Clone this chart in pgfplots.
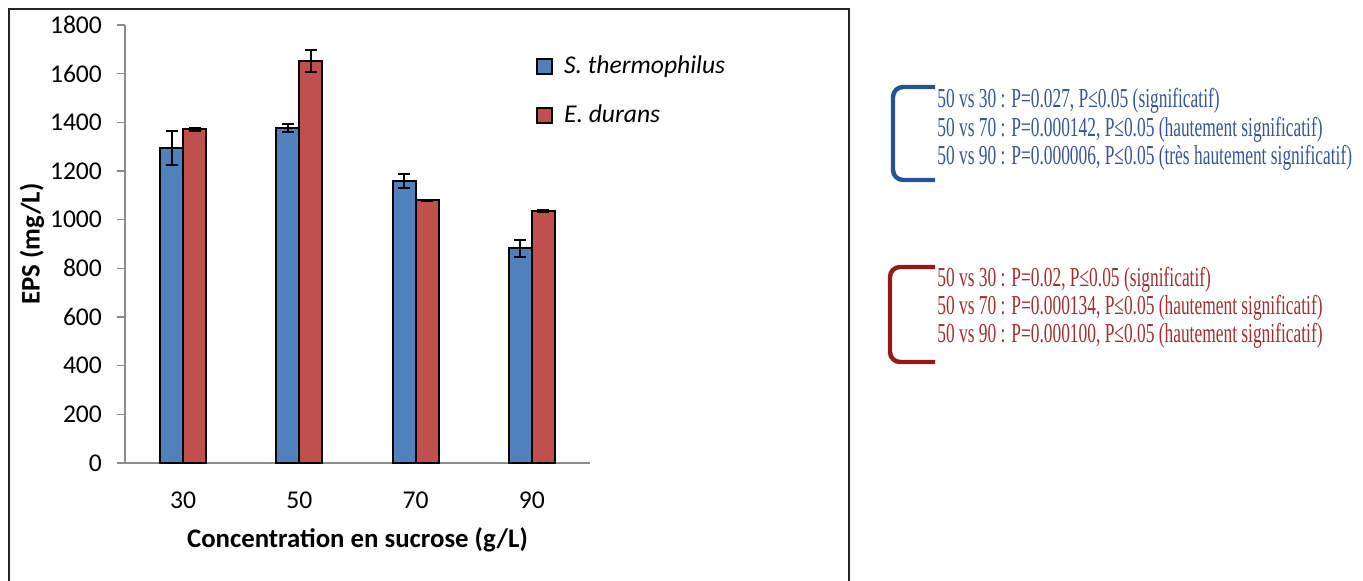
\documentclass[border=0pt]{standalone}
\usepackage{fontspec}
\setmainfont{Carlito}
\newfontfamily\annotfont[FakeStretch=0.635]{Liberation Serif}
\usepackage{pgfplots}
\usepackage{pgfplotstable}
\pgfplotsset{compat=1.18}

\definecolor{barblue}{RGB}{79,129,189}
\definecolor{barred}{RGB}{192,80,77}
\definecolor{noteblue}{RGB}{52,86,150}
\definecolor{notered}{RGB}{165,45,45}
\definecolor{brkblue}{RGB}{36,84,150}
\definecolor{brkred}{RGB}{150,25,25}

% EPS (mg/L) by sucrose concentration: mean and error
\pgfplotstableread{
x val err
0 1293 70
1 1377 16
2 1159 30
3 882 34
}\sthermo
\pgfplotstableread{
x val err
0 1371 5
1 1652 47
2 1080 2
3 1036 3
}\edurans

\begin{document}
\begin{tikzpicture}[x=1pt,y=1pt]
\useasboundingbox (0,0) rectangle (681.5,290.5);
% chart frame
\draw[line width=1pt, black!85] (4.5,-3) -- (4.5,286) -- (424.5,286) -- (424.5,-3);

\begin{axis}[
  at={(62.5pt,59pt)}, anchor=south west, scale only axis,
  width=232.5pt, height=219pt,
  xmin=-0.5, xmax=3.5, ymin=0, ymax=1800,
  axis x line=bottom, axis y line=left,
  axis line style={-, draw=gray!90, line width=0.8pt},
  x axis line style={shorten <=-4pt},
  xtick={0,1,2,3}, xticklabels={30,50,70,90},
  major x tick style={draw=none},
  ytick={0,200,...,1800},
  tick align=outside, major tick length=4pt,
  y tick style={draw=gray!90, line width=0.8pt},
  /pgf/number format/1000 sep={},
  /pgf/number format/assume math mode=true,
  tick label style={font=\fontsize{12.8}{15}\selectfont},
  xticklabel style={yshift=-7pt},
  yticklabel style={xshift=-4pt},
  ybar=0pt, bar width=11.5pt,
  every axis plot/.append style={draw=black, line width=1.1pt},
  error bars/error bar style={black, line width=1pt},
  error bars/error mark options={rotate=90, mark size=3pt, black, line width=1pt},
  legend image code/.code={\draw[#1, line width=0.8pt] (0pt,-3.75pt) rectangle (7.5pt,3.75pt);},
  legend style={at={(0.884,0.939)}, anchor=north west, draw=none, fill=none,
    font=\fontsize{12.8}{15}\selectfont\itshape, row sep=10pt, inner sep=0pt,
    /tikz/every odd column/.append style={column sep=3.5pt}},
  legend cell align=left,
  clip=false,
]
\addplot[fill=barblue, error bars/.cd, y dir=both, y explicit]
  table[x=x, y=val, y error=err] {\sthermo};
\addplot[fill=barred, error bars/.cd, y dir=both, y explicit]
  table[x=x, y=val, y error=err] {\edurans};
\legend{S. thermophilus, E. durans}
\end{axis}

% axis titles
\node[font=\fontsize{13.4}{15}\selectfont\bfseries] at (178.75,20.5) {Concentration en sucrose (g/L)};
\node[font=\fontsize{13.4}{15}\selectfont\bfseries, rotate=90] at (16,168.5) {EPS (mg/L)};

% statistical comparisons
\draw[brkblue, line width=2.2pt, rounded corners=5pt] (467.5,247) -- (446.5,247) -- (446.5,200.5) -- (467.5,200.5);
\begin{scope}[every node/.style={anchor=base west, inner sep=0pt, text=noteblue, font=\annotfont\fontsize{13.7}{15}\selectfont}]
\node at (468.5,236.5) {50 vs 30 : P=0.027, P≤0.05 (significatif)};
\node at (468.5,222) {50 vs 70 : P=0.000142, P≤0.05 (hautement significatif)};
\node at (468.5,208) {50 vs 90 : P=0.000006, P≤0.05 (très hautement significatif)};
\end{scope}

\draw[brkred, line width=2.2pt, rounded corners=5pt] (467.5,157) -- (445,157) -- (445,109.5) -- (467.5,109.5);
\begin{scope}[every node/.style={anchor=base west, inner sep=0pt, text=notered, font=\annotfont\fontsize{13.7}{15}\selectfont}]
\node at (468.5,147) {50 vs 30 : P=0.02, P≤0.05 (significatif)};
\node at (468.5,133) {50 vs 70 : P=0.000134, P≤0.05 (hautement significatif)};
\node at (468.5,119) {50 vs 90 : P=0.000100, P≤0.05 (hautement significatif)};
\end{scope}
\end{tikzpicture}
\end{document}
